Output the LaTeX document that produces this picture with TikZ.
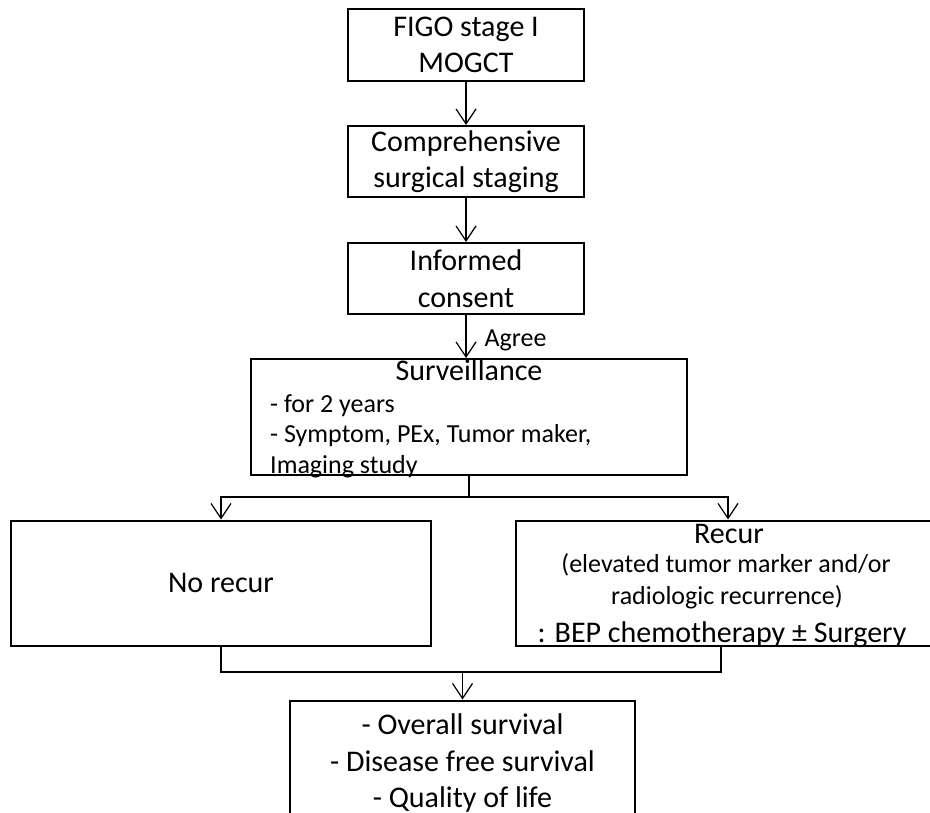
\documentclass[tikz,border=0pt]{standalone}
\usepackage{fontspec}
\setmainfont{Carlito}
\usetikzlibrary{arrows.meta,positioning}

\newcommand{\bigtxt}{\fontsize{30}{36.6}\selectfont}
\newcommand{\smalltxt}{\fontsize{26}{30.5}\selectfont}

\begin{document}
\begin{tikzpicture}[x=1pt, y=-1pt,
    box/.style={rectangle, draw, line width=2pt, inner sep=0pt, align=center, font=\bigtxt},
    txt/.style={inner sep=0pt, anchor=base},
    link/.style={line width=1.2pt, -{Straight Barb[length=15pt,width=20pt]}},
    plain/.style={line width=1.2pt}]
    \useasboundingbox (0,0) rectangle (930,813);

    \node[box, minimum width=236, minimum height=72] (figo) at (466,45) {FIGO stage I\\MOGCT};
    \node[box, minimum width=236, minimum height=71] (staging) at (466,161.5) {Comprehensive\\surgical staging};
    \node[box, minimum width=236, minimum height=71] (consent) at (466,278.5) {Informed\\consent};

    % surveillance box, list runs over its lower edge
    \node[box, minimum width=436, minimum height=116] (surv) at (469,417) {};
    \node[txt, font=\bigtxt] (survtitle) at (469,381) {Surveillance};
    \node[txt, anchor=base west, font=\smalltxt, align=left] (survlist) at (270,473)
        {- for 2 years\\- Symptom, PEx, Tumor maker,\\Imaging study};

    \node[box, minimum width=420, minimum height=125] (norecur) at (221,583) {No recur};
    \node[box, minimum width=424, minimum height=125] (recur) at (728,583) {};
    \node[txt, font=\bigtxt] (recurtitle) at (729,543) {Recur};
    \node[txt, font=\smalltxt] (recurwhy1) at (726,572) {(elevated tumor marker and/or};
    \node[txt, font=\smalltxt] (recurwhy2) at (727,604) {radiologic recurrence)};
    \node[txt, font=\bigtxt] (recurtx) at (722,642) {: BEP chemotherapy ± Surgery};

    \node[box, minimum width=345, minimum height=125] (outcome) at (462.5,763)
        {- Overall survival\\- Disease free survival\\- Quality of life};

    \coordinate (fork) at (469,497);
    \coordinate (join) at (462.5,672);

    \draw[link] (figo) -- (staging);
    \draw[link] (staging) -- (consent);
    \draw[link] (consent.south) -- node[pos=0.6, right=18pt, font=\smalltxt, inner sep=0pt] (agree) {Agree} (consent.south |- surv.north);
    \draw[plain] (surv.south) -- (fork);
    \draw[link] (fork) -| (norecur.north);
    \draw[link] (fork) -| (recur.north);
    \draw[plain] (norecur.south) |- (join);
    \draw[plain] ([xshift=-7pt]recur.south) |- (join);
    \draw[link] (join) -- (outcome.north);
\end{tikzpicture}
\end{document}
